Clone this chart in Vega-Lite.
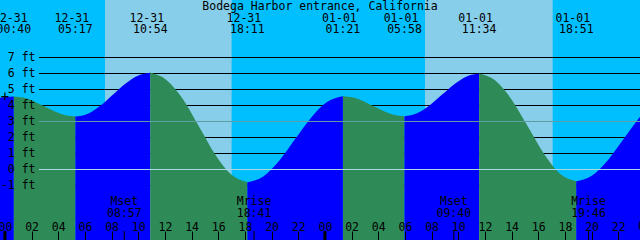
{
  "$schema": "https://vega.github.io/schema/vega-lite/v6.json",
  "width": 640,
  "height": 240,
  "padding": 0,
  "autosize": {"type": "none"},
  "background": "#00BFFF",
  "config": {
    "view": {"stroke": null, "fill": "#00BFFF"},
    "text": {"font": "DejaVu Sans Mono", "fontSize": 11.5, "color": "black"}
  },
  "datasets": {
    "curve": [
      {"t": -1.0, "h": 4.3, "seg": 0, "phase": "rising"},
      {"t": -0.37, "h": 4.48, "seg": 0, "phase": "rising"},
      {"t": 0.667, "h": 4.56, "seg": 0, "phase": "rising"},
      {"t": 0.667, "h": 4.56, "seg": 1, "phase": "falling"},
      {"t": 1.436, "h": 4.48, "seg": 1, "phase": "falling"},
      {"t": 2.206, "h": 4.25, "seg": 1, "phase": "falling"},
      {"t": 2.975, "h": 3.935, "seg": 1, "phase": "falling"},
      {"t": 3.744, "h": 3.62, "seg": 1, "phase": "falling"},
      {"t": 4.514, "h": 3.39, "seg": 1, "phase": "falling"},
      {"t": 5.283, "h": 3.31, "seg": 1, "phase": "falling"},
      {"t": 5.283, "h": 3.31, "seg": 2, "phase": "rising"},
      {"t": 6.219, "h": 3.49, "seg": 2, "phase": "rising"},
      {"t": 7.155, "h": 3.99, "seg": 2, "phase": "rising"},
      {"t": 8.092, "h": 4.675, "seg": 2, "phase": "rising"},
      {"t": 9.028, "h": 5.36, "seg": 2, "phase": "rising"},
      {"t": 9.964, "h": 5.857, "seg": 2, "phase": "rising"},
      {"t": 10.9, "h": 6.04, "seg": 2, "phase": "rising"},
      {"t": 10.9, "h": 6.04, "seg": 3, "phase": "falling"},
      {"t": 12.114, "h": 5.6, "seg": 3, "phase": "falling"},
      {"t": 13.328, "h": 4.42, "seg": 3, "phase": "falling"},
      {"t": 14.542, "h": 2.7, "seg": 3, "phase": "falling"},
      {"t": 15.755, "h": 0.96, "seg": 3, "phase": "falling"},
      {"t": 16.969, "h": -0.31, "seg": 3, "phase": "falling"},
      {"t": 18.183, "h": -0.79, "seg": 3, "phase": "falling"},
      {"t": 18.183, "h": -0.79, "seg": 4, "phase": "rising"},
      {"t": 19.378, "h": -0.43, "seg": 4, "phase": "rising"},
      {"t": 20.572, "h": 0.55, "seg": 4, "phase": "rising"},
      {"t": 21.767, "h": 1.9, "seg": 4, "phase": "rising"},
      {"t": 22.961, "h": 3.24, "seg": 4, "phase": "rising"},
      {"t": 24.156, "h": 4.22, "seg": 4, "phase": "rising"},
      {"t": 25.35, "h": 4.58, "seg": 4, "phase": "rising"},
      {"t": 25.35, "h": 4.58, "seg": 5, "phase": "falling"},
      {"t": 26.12, "h": 4.5, "seg": 5, "phase": "falling"},
      {"t": 26.889, "h": 4.27, "seg": 5, "phase": "falling"},
      {"t": 27.659, "h": 3.955, "seg": 5, "phase": "falling"},
      {"t": 28.428, "h": 3.64, "seg": 5, "phase": "falling"},
      {"t": 29.198, "h": 3.41, "seg": 5, "phase": "falling"},
      {"t": 29.967, "h": 3.33, "seg": 5, "phase": "falling"},
      {"t": 29.967, "h": 3.33, "seg": 6, "phase": "rising"},
      {"t": 30.9, "h": 3.51, "seg": 6, "phase": "rising"},
      {"t": 31.834, "h": 4.0, "seg": 6, "phase": "rising"},
      {"t": 32.767, "h": 4.665, "seg": 6, "phase": "rising"},
      {"t": 33.7, "h": 5.33, "seg": 6, "phase": "rising"},
      {"t": 34.634, "h": 5.82, "seg": 6, "phase": "rising"},
      {"t": 35.567, "h": 6.0, "seg": 6, "phase": "rising"},
      {"t": 35.567, "h": 6.0, "seg": 7, "phase": "falling"},
      {"t": 36.781, "h": 5.56, "seg": 7, "phase": "falling"},
      {"t": 37.995, "h": 4.38, "seg": 7, "phase": "falling"},
      {"t": 39.209, "h": 2.7, "seg": 7, "phase": "falling"},
      {"t": 40.422, "h": 0.99, "seg": 7, "phase": "falling"},
      {"t": 41.636, "h": -0.26, "seg": 7, "phase": "falling"},
      {"t": 42.85, "h": -0.73, "seg": 7, "phase": "falling"},
      {"t": 42.85, "h": -0.73, "seg": 8, "phase": "rising"},
      {"t": 44.042, "h": -0.37, "seg": 8, "phase": "rising"},
      {"t": 45.233, "h": 0.6, "seg": 8, "phase": "rising"},
      {"t": 46.425, "h": 1.935, "seg": 8, "phase": "rising"},
      {"t": 47.63, "h": 3.3, "seg": 8, "phase": "rising"},
      {"t": 48.3, "h": 3.95, "seg": 8, "phase": "rising"}
    ],
    "days": [
      {"start": 7.505, "end": 17.0},
      {"start": 31.505, "end": 41.08}
    ],
    "gridlines": [{"ft": -1}, {"ft": 1}, {"ft": 2}, {"ft": 4}, {"ft": 5}, {"ft": 6}, {"ft": 7}],
    "midline": [{"ft": 3}],
    "datumline": [{"ft": 0}],
    "events": [
      {"t": 0.667, "date": "12-31", "time": "00:40"},
      {"t": 5.283, "date": "12-31", "time": "05:17"},
      {"t": 10.9, "date": "12-31", "time": "10:54"},
      {"t": 18.183, "date": "12-31", "time": "18:11"},
      {"t": 25.35, "date": "01-01", "time": "01:21"},
      {"t": 29.967, "date": "01-01", "time": "05:58"},
      {"t": 35.567, "date": "01-01", "time": "11:34"},
      {"t": 42.85, "date": "01-01", "time": "18:51"}
    ],
    "moon": [
      {"t": 8.95, "label": "Mset", "time": "08:57"},
      {"t": 18.683, "label": "Mrise", "time": "18:41"},
      {"t": 33.667, "label": "Mset", "time": "09:40"},
      {"t": 43.767, "label": "Mrise", "time": "19:46"}
    ],
    "midnights": [{"t": 0, "label": "00"}, {"t": 24, "label": "00"}, {"t": 48, "label": "00"}],
    "titles": [{"t": 23.63, "text": "Bodega Harbor entrance, California"}],
    "marker": [{"t": 0.005, "h": 4.29, "text": "+"}]
  },
  "layer": [
    {
      "data": {"name": "days"},
      "mark": {"type": "rect", "color": "#87CEEB"},
      "encoding": {
        "x": {
          "field": "start", "type": "quantitative",
          "scale": {"domain": [-0.37, 47.63], "nice": false, "zero": false},
          "axis": {
            "orient": "bottom", "offset": -9, "title": null,
            "values": [0, 2, 4, 6, 8, 10, 12, 14, 16, 18, 20, 22, 24, 26, 28, 30, 32, 34, 36, 38, 40, 42, 44, 46, 48],
            "tickCount": 100,
            "tickSize": 10, "tickColor": "black", "tickWidth": 1,
            "domain": false, "grid": false,
            "labelPadding": -11, "labelBaseline": "alphabetic",
            "labelFont": "DejaVu Sans Mono", "labelFontSize": 11.5, "labelColor": "black",
            "labelExpr": "(datum.value % 24 < 10 ? '0' : '') + (datum.value % 24)",
            "labelFlush": false, "labelOverlap": false, "labelBound": false,
            "zindex": 1
          }
        },
        "x2": {"field": "end"}
      }
    },
    {
      "data": {"name": "gridlines"},
      "mark": {"type": "rule", "color": "black", "strokeWidth": 1},
      "encoding": {
        "y": {
          "field": "ft", "type": "quantitative",
          "scale": {"domain": [-4.40625, 10.59375], "nice": false, "zero": false},
          "axis": {
            "orient": "left", "offset": -36, "title": null,
            "values": [-1, 0, 1, 2, 3, 4, 5, 6, 7],
            "tickCount": 100,
            "ticks": false, "tickSize": 0, "domain": false, "grid": false,
            "labelPadding": 1, "labelExpr": "datum.value + ' ft'",
            "labelFont": "DejaVu Sans Mono", "labelFontSize": 11.5, "labelColor": "black",
            "labelBaseline": "middle", "labelFlush": false, "labelOverlap": false, "labelBound": false,
            "zindex": 1
          }
        },
        "x": {"datum": 2.555, "type": "quantitative"},
        "x2": {"datum": 48}
      }
    },
    {
      "data": {"name": "curve"},
      "mark": {"type": "area", "interpolate": "monotone", "clip": true},
      "encoding": {
        "x": {"field": "t", "type": "quantitative"},
        "y": {"field": "h", "type": "quantitative", "stack": null},
        "y2": {"datum": -4.40625},
        "color": {
          "field": "phase", "type": "nominal",
          "scale": {"domain": ["rising", "falling"], "range": ["#0000FF", "#2E8B57"]},
          "legend": null
        },
        "detail": {"field": "seg", "type": "nominal"}
      }
    },
    {
      "data": {"name": "midline"},
      "mark": {"type": "rule", "color": "#5F9EA0", "strokeWidth": 1},
      "encoding": {
        "y": {"field": "ft", "type": "quantitative"},
        "x": {"datum": 2.555, "type": "quantitative"},
        "x2": {"datum": 48}
      }
    },
    {
      "data": {"name": "datumline"},
      "mark": {"type": "rule", "color": "#ADD8E6", "strokeWidth": 1},
      "encoding": {
        "y": {"field": "ft", "type": "quantitative"},
        "x": {"datum": 2.555, "type": "quantitative"},
        "x2": {"datum": 48}
      }
    },
    {
      "data": {"name": "midnights"},
      "mark": {"type": "rule", "color": "black", "strokeWidth": 3, "clip": true},
      "encoding": {
        "x": {"field": "t", "type": "quantitative"},
        "y": {"datum": -3.84},
        "y2": {"datum": -4.40625}
      }
    },
    {
      "data": {"name": "midnights"},
      "transform": [{"filter": "datum.t > 47"}],
      "mark": {"type": "text", "baseline": "alphabetic", "align": "center"},
      "encoding": {
        "x": {"field": "t", "type": "quantitative"},
        "y": {"datum": -3.78},
        "text": {"field": "label"}
      }
    },
    {
      "data": {"name": "moon"},
      "mark": {"type": "rule", "color": "black", "strokeWidth": 1},
      "encoding": {
        "x": {"field": "t", "type": "quantitative"},
        "y": {"datum": -3.84},
        "y2": {"datum": -4.40625}
      }
    },
    {
      "data": {"name": "moon"},
      "mark": {"type": "text", "baseline": "alphabetic", "align": "center"},
      "encoding": {
        "x": {"field": "t", "type": "quantitative"},
        "y": {"datum": -2.22},
        "text": {"field": "label"}
      }
    },
    {
      "data": {"name": "moon"},
      "mark": {"type": "text", "baseline": "alphabetic", "align": "center"},
      "encoding": {
        "x": {"field": "t", "type": "quantitative"},
        "y": {"datum": -2.97},
        "text": {"field": "time"}
      }
    },
    {
      "data": {"name": "events"},
      "mark": {"type": "text", "baseline": "alphabetic", "align": "center", "dx": -3.5},
      "encoding": {
        "x": {"field": "t", "type": "quantitative"},
        "y": {"datum": 9.22},
        "text": {"field": "date"}
      }
    },
    {
      "data": {"name": "events"},
      "mark": {"type": "text", "baseline": "alphabetic", "align": "center"},
      "encoding": {
        "x": {"field": "t", "type": "quantitative"},
        "y": {"datum": 8.53},
        "text": {"field": "time"}
      }
    },
    {
      "data": {"name": "titles"},
      "mark": {"type": "text", "baseline": "alphabetic", "align": "center"},
      "encoding": {
        "x": {"field": "t", "type": "quantitative"},
        "y": {"datum": 9.97},
        "text": {"field": "text"}
      }
    },
    {
      "data": {"name": "marker"},
      "mark": {"type": "text", "baseline": "alphabetic", "align": "center", "fontSize": 14},
      "encoding": {
        "x": {"field": "t", "type": "quantitative"},
        "y": {"field": "h", "type": "quantitative"},
        "text": {"field": "text"}
      }
    }
  ]
}
